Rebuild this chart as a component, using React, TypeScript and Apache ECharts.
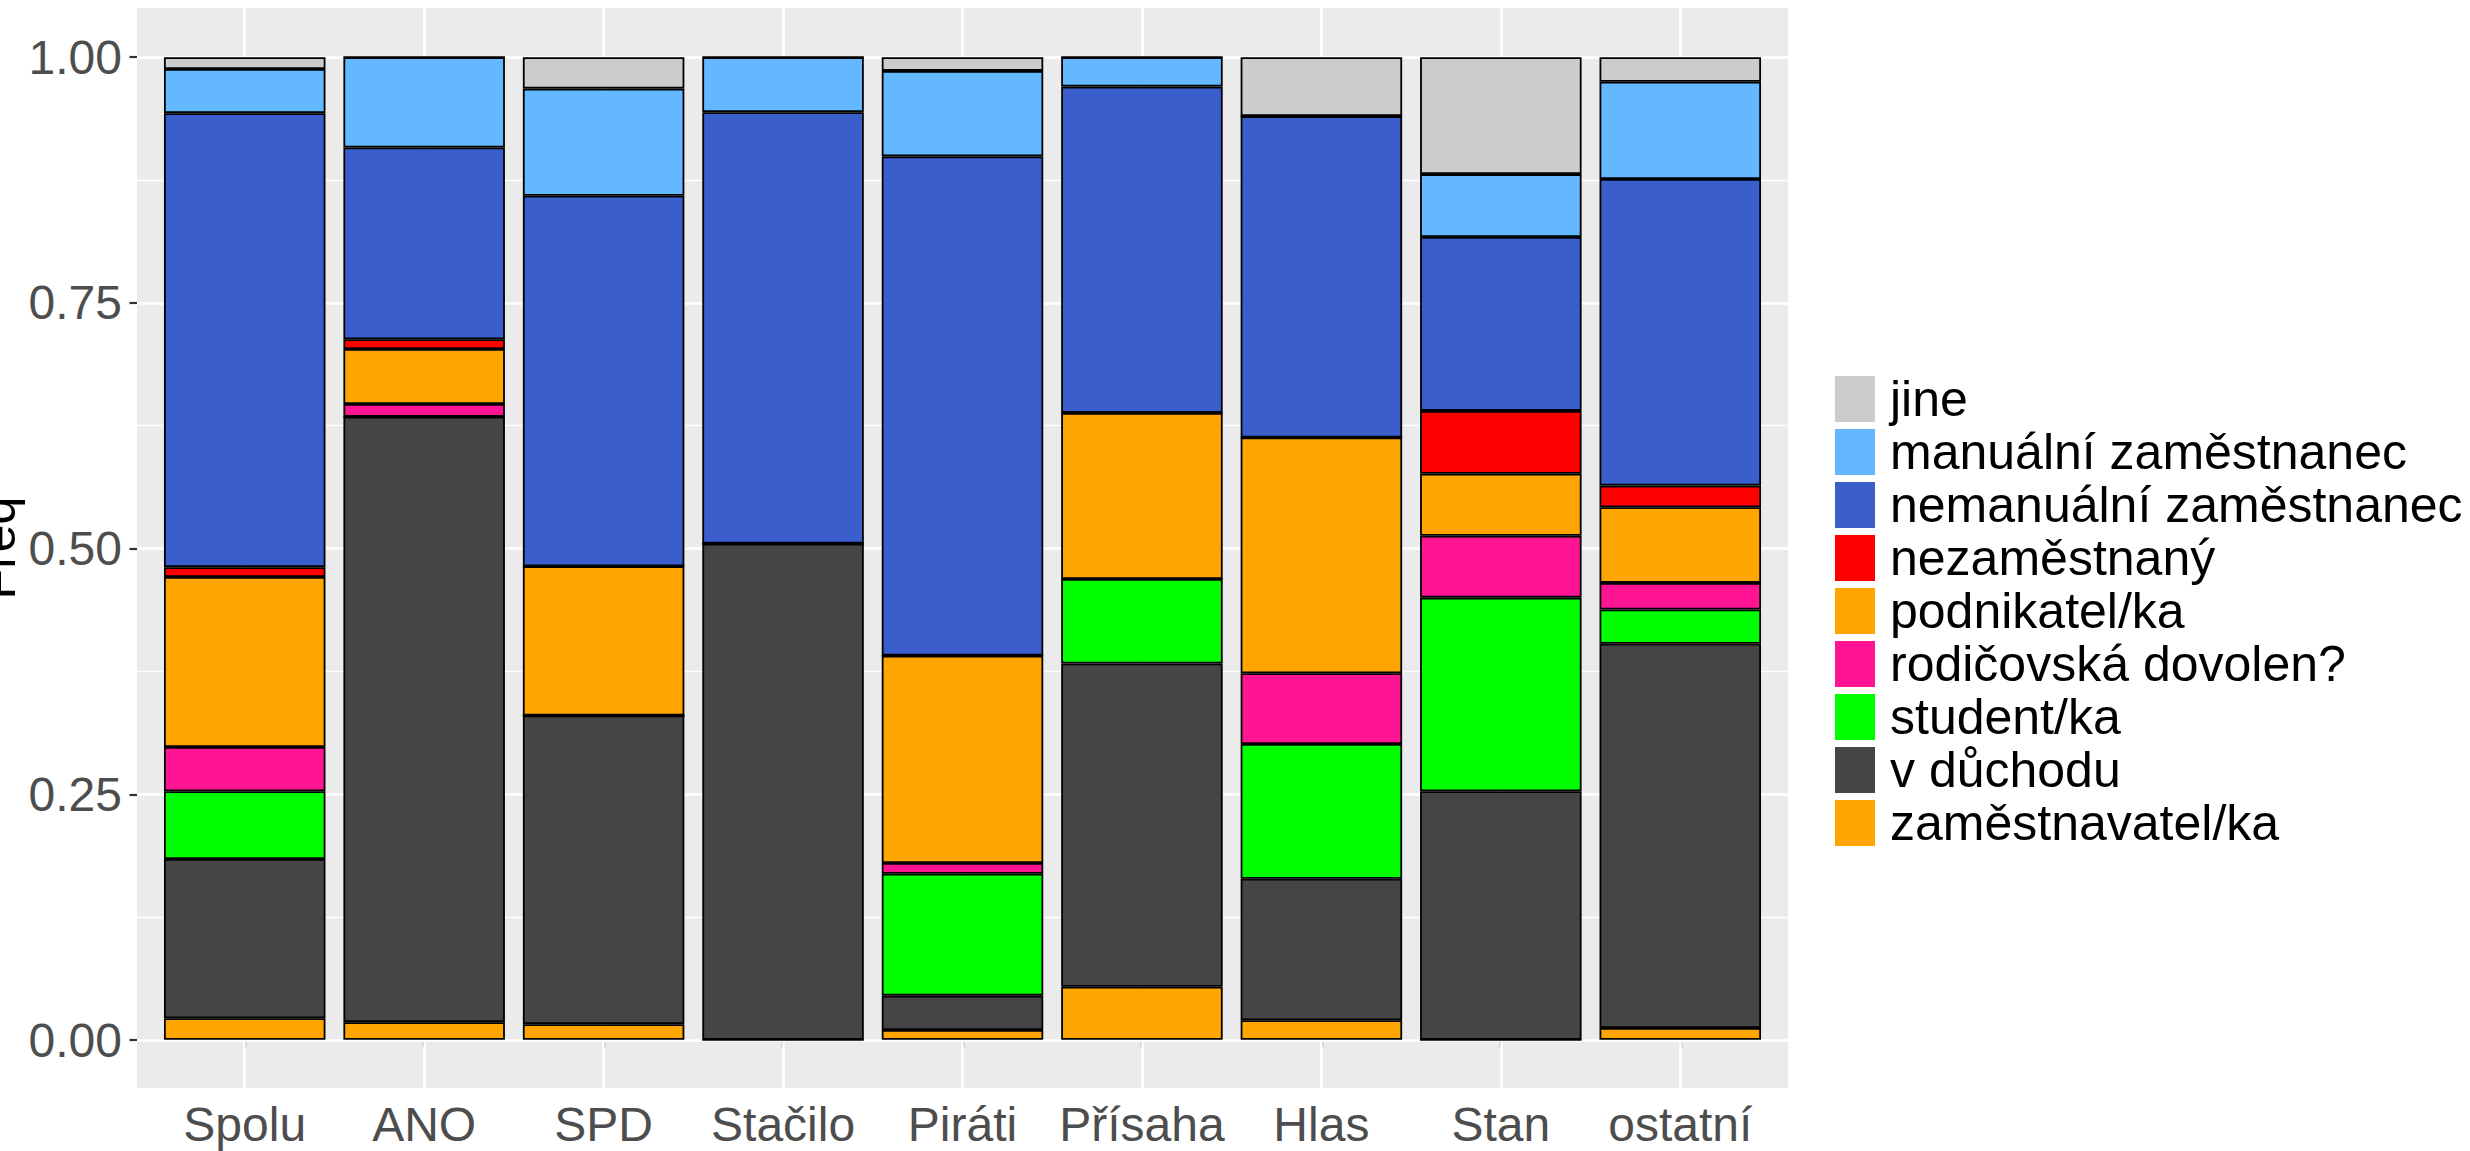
import React, { useEffect, useRef } from 'react';
import * as echarts from 'echarts';

const categories = ['Spolu', 'ANO', 'SPD', 'Stačilo', 'Piráti', 'Přísaha', 'Hlas', 'Stan', 'ostatní'];

const legendOrder = [
  'jine',
  'manuální zaměstnanec',
  'nemanuální zaměstnanec',
  'nezaměstnaný',
  'podnikatel/ka',
  'rodičovská dovolen?',
  'student/ka',
  'v důchodu',
  'zaměstnavatel/ka',
];

const zamestnavatel = [0.022, 0.018, 0.016, 0, 0.010, 0.054, 0.020, 0, 0.012];
const duchod = [0.162, 0.616, 0.314, 0.505, 0.035, 0.329, 0.144, 0.253, 0.391];
const student = [0.069, 0, 0, 0, 0.124, 0.086, 0.137, 0.197, 0.035];
const rodicovska = [0.045, 0.013, 0, 0, 0.011, 0, 0.072, 0.063, 0.027];
const podnikatel = [0.173, 0.056, 0.152, 0, 0.211, 0.169, 0.240, 0.063, 0.077];
const nezamestnany = [0.010, 0.010, 0, 0, 0, 0, 0, 0.064, 0.022];
const nemanualni = [0.462, 0.195, 0.377, 0.439, 0.508, 0.332, 0.327, 0.177, 0.312];
const manualni = [0.045, 0.092, 0.109, 0.056, 0.087, 0.030, 0, 0.064, 0.099];
const jine = [0.012, 0, 0.032, 0, 0.014, 0, 0.060, 0.119, 0.025];

const yTickValues = [0, 0.25, 0.5, 0.75, 1];

const FONT = '"Liberation Sans", Arial, Helvetica, sans-serif';

// bottom to top stacking order
const stackSeries = [
  { name: 'zaměstnavatel/ka', data: zamestnavatel, color: '#FFA500' },
  { name: 'v důchodu', data: duchod, color: '#454545' },
  { name: 'student/ka', data: student, color: '#00FF00' },
  { name: 'rodičovská dovolen?', data: rodicovska, color: '#FF1493' },
  { name: 'podnikatel/ka', data: podnikatel, color: '#FFA500' },
  { name: 'nezaměstnaný', data: nezamestnany, color: '#FF0000' },
  { name: 'nemanuální zaměstnanec', data: nemanualni, color: '#3A5FCD' },
  { name: 'manuální zaměstnanec', data: manualni, color: '#63B8FF' },
  { name: 'jine', data: jine, color: '#CCCCCC' },
];

export default function App() {
  const ref = useRef<HTMLDivElement>(null);

  useEffect(() => {
    if (!ref.current) return;
    const chart = echarts.init(ref.current, undefined, { renderer: 'svg' });

    const barSeries = stackSeries.map((s) => ({
      name: s.name,
      type: 'bar',
      stack: 'total',
      xAxisIndex: 2,
      yAxisIndex: 2,
      barWidth: '90%',
      data: s.data,
      z: 3,
      itemStyle: { color: s.color, borderColor: '#000000', borderWidth: 1.8 },
      emphasis: { disabled: true },
    }));

    const option: any = {
      animation: false,
      textStyle: { fontFamily: FONT },
      grid: [
        { left: 137, top: 8, width: 1651, height: 1080, show: true, backgroundColor: '#EBEBEB', borderWidth: 0 },
        { left: 137, top: 57, width: 1651, height: 983, show: false },
        { left: 155, top: 8, width: 1615, height: 1081, show: false },
      ],
      xAxis: [
        { gridIndex: 0, type: 'value', show: false },
        { gridIndex: 1, type: 'value', show: false },
        {
          gridIndex: 2,
          type: 'category',
          data: categories,
          axisLine: { show: false },
          axisTick: { show: true, alignWithLabel: true, length: 7.5, lineStyle: { color: '#333333', width: 2.2 } },
          axisLabel: { fontSize: 48, color: '#4D4D4D', margin: 11, interval: 0, fontFamily: FONT },
          splitLine: { show: false },
        },
      ],
      yAxis: [
        { gridIndex: 0, type: 'value', show: false },
        {
          gridIndex: 1,
          type: 'value',
          min: 0,
          max: 1,
          interval: 0.25,
          z: 1,
          axisLine: { show: false },
          axisTick: { show: true, length: 7.5, lineStyle: { color: '#333333', width: 2.2 } },
          axisLabel: {
            fontSize: 48,
            color: '#4D4D4D',
            margin: 15,
            fontFamily: FONT,
            customValues: yTickValues,
            formatter: (v: number) => v.toFixed(2),
          },
          splitLine: { show: true, lineStyle: { color: '#FFFFFF', width: 2.7 } },
          minorTick: { show: false, splitNumber: 2 },
          minorSplitLine: { show: true, lineStyle: { color: '#FFFFFF', width: 1.4 } },
        },
        { gridIndex: 2, type: 'value', min: -0.05, max: 1.05, show: false },
      ],
      legend: {
        data: legendOrder,
        orient: 'vertical',
        left: 1830,
        top: 369,
        itemWidth: 40,
        itemHeight: 46,
        itemGap: 3,
        icon: 'rect',
        selectedMode: false,
        itemStyle: { borderWidth: 0 },
        textStyle: { fontSize: 50, color: '#000000', lineHeight: 46, fontFamily: FONT, padding: [0, 0, 0, 10] },
      },
      graphic: [
        {
          type: 'text',
          x: 23,
          y: 548,
          rotation: Math.PI / 2,
          style: {
            text: 'Freq',
            fontSize: 50,
            fill: '#000000',
            align: 'center',
            verticalAlign: 'bottom',
            fontFamily: FONT,
          },
        },
      ],
      series: [
        {
          name: '__grid',
          type: 'line',
          xAxisIndex: 2,
          yAxisIndex: 2,
          data: [],
          z: 1,
          silent: true,
          markLine: {
            silent: true,
            z: 1,
            symbol: ['none', 'none'],
            label: { show: false },
            lineStyle: { color: '#FFFFFF', width: 2.7, type: 'solid' },
            emphasis: { disabled: true },
            data: categories.map((c) => ({ xAxis: c })),
          },
        },
        ...barSeries,
      ],
    };

    chart.setOption(option);
    return () => chart.dispose();
  }, []);

  return (
    <div
      ref={ref}
      style={{ position: 'fixed', left: 0, top: 0, width: 2470, height: 1151, background: '#FFFFFF' }}
    />
  );
}
